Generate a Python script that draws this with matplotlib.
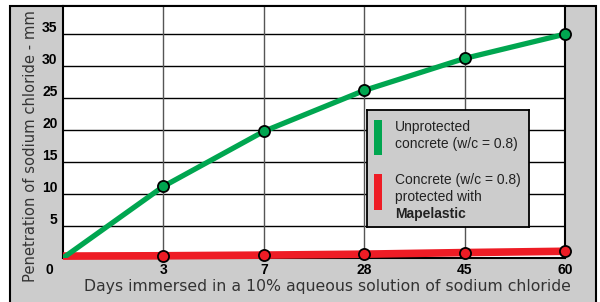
import matplotlib.pyplot as plt
from matplotlib.patches import Rectangle

days = ["0", "3", "7", "28", "45", "60"]
unprotected = [0.0, 11.2, 19.8, 26.2, 31.2, 35.0]
protected = [0.3, 0.35, 0.45, 0.6, 0.85, 1.05]
yticks = [5, 10, 15, 20, 25, 30, 35]

GREEN = "#00a650"
RED = "#ee1c25"
PANEL = "#cccccc"

fig = plt.figure(figsize=(6.0, 3.02), dpi=100)
fig.patch.set_facecolor("white")

# gray panel with black frame (bottom edge is cut off)
fig.add_artist(Rectangle((10 / 600, -0.05), 586 / 600, 1 - 5.5 / 302 + 0.05,
                         transform=fig.transFigure, facecolor=PANEL,
                         edgecolor="black", linewidth=1.5, zorder=-5))

ax = fig.add_axes([63 / 600, 1 - 258 / 302, 502 / 600, 252 / 302], zorder=1)
ax.set_facecolor("white")
x = list(range(len(days)))
ax.set_xlim(0, len(days) - 1)
ax.set_ylim(0, 39.4)

for y in yticks:
    ax.axhline(y, color="black", lw=1.0, zorder=1)
for xi in x[1:-1]:
    ax.axvline(xi, color="#555555", lw=1.0, zorder=1)

ax.plot(x, protected, color=RED, lw=5.5, solid_capstyle="butt", zorder=3, clip_on=False)
ax.plot(x[1:], protected[1:], "o", ms=8, mfc=RED, mec="black", mew=1.3, zorder=4, clip_on=False)
ax.plot(x, unprotected, color=GREEN, lw=3.8, solid_capstyle="round", zorder=3)
ax.plot(x[1:], unprotected[1:], "o", ms=8, mfc=GREEN, mec="black", mew=1.3, zorder=4, clip_on=False)

for s in ax.spines.values():
    s.set_linewidth(1.5)
ax.set_xticks([])
ax.set_yticks([])

# tick labels: y labels sit just above their grid lines
for y in yticks:
    ax.annotate(str(y), (0, y), xytext=(-4, 4.5), textcoords="offset points",
                ha="right", va="center", fontsize=10, fontweight="bold",
                family="Liberation Sans", annotation_clip=False)
for xi, d in zip(x, days):
    dx = -10 if xi == 0 else 0
    ax.annotate(d, (xi, 0), xytext=(dx, -9), textcoords="offset points",
                ha="center", va="center", fontsize=10, fontweight="bold",
                family="Liberation Sans", annotation_clip=False)

fig.text(31 / 600, 1 - 146 / 302, "Penetration of sodium chloride - mm", rotation=90,
         ha="center", va="center", fontsize=10.6, color="#333333")
fig.text(327 / 600, 1 - 287 / 302, "Days immersed in a 10% aqueous solution of sodium chloride",
         ha="center", va="center", fontsize=11.3, color="#333333")

# legend box in its own axes above the plot
lax = fig.add_axes([367 / 600, 1 - 227 / 302, 162 / 600, 117 / 302], zorder=5)
lax.set_facecolor(PANEL)
lax.set_xlim(0, 162)
lax.set_ylim(117, 0)
lax.set_xticks([])
lax.set_yticks([])
for s in lax.spines.values():
    s.set_linewidth(1.3)
lax.add_patch(Rectangle((7, 10), 8, 35, facecolor=GREEN, lw=0))
lax.add_patch(Rectangle((7, 64), 8, 36, facecolor=RED, lw=0))
fnt = dict(fontsize=10, color="#222222", family="Liberation Sans", va="center", ha="left")
lax.text(28, 17, "Unprotected", **fnt)
lax.text(28, 34, "concrete (w/c = 0.8)", **fnt)
lax.text(28, 70, "Concrete (w/c = 0.8)", **fnt)
lax.text(28, 87, "protected with", **fnt)
lax.text(28, 104, "Mapelastic", fontweight="bold", **fnt)

fig.savefig("out.png", dpi=100)
